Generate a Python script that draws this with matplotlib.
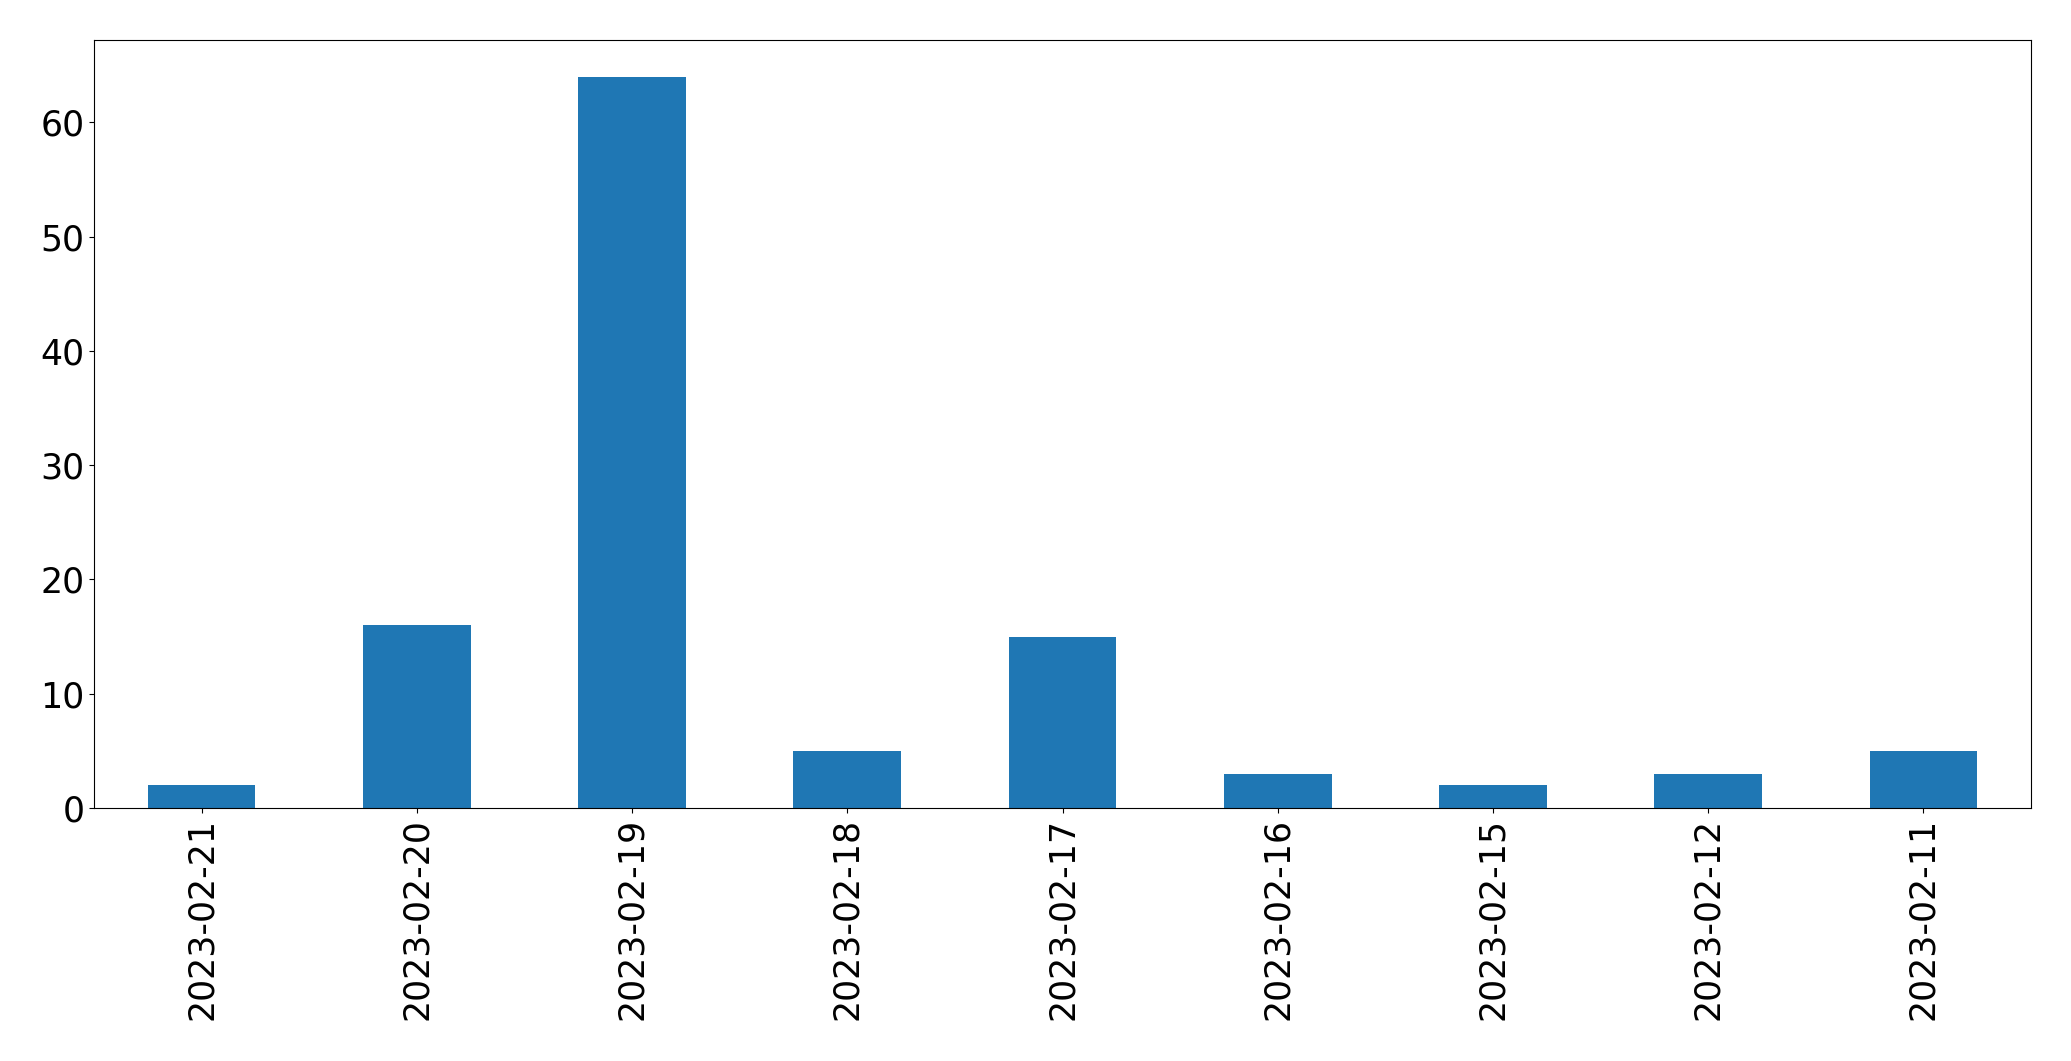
import numpy as np
import pandas as pd
import matplotlib
matplotlib.use("Agg")
import matplotlib.pyplot as plt

dates = ["2023-02-21", "2023-02-20", "2023-02-19", "2023-02-18", "2023-02-17",
         "2023-02-16", "2023-02-15", "2023-02-12", "2023-02-11"]
counts = [2, 16, 64, 5, 15, 3, 2, 3, 5]

series = pd.Series(counts, index=dates)

fig = plt.figure(figsize=(20.71, 10.61), dpi=100)
ax = fig.add_axes([0.0454, 0.2385, 0.9353, 0.7238])

series.plot(kind="bar", ax=ax, color="#1f77b4", fontsize=25)

ax.tick_params(axis="both", labelsize=25)

fig.savefig("out.png", dpi=100)
